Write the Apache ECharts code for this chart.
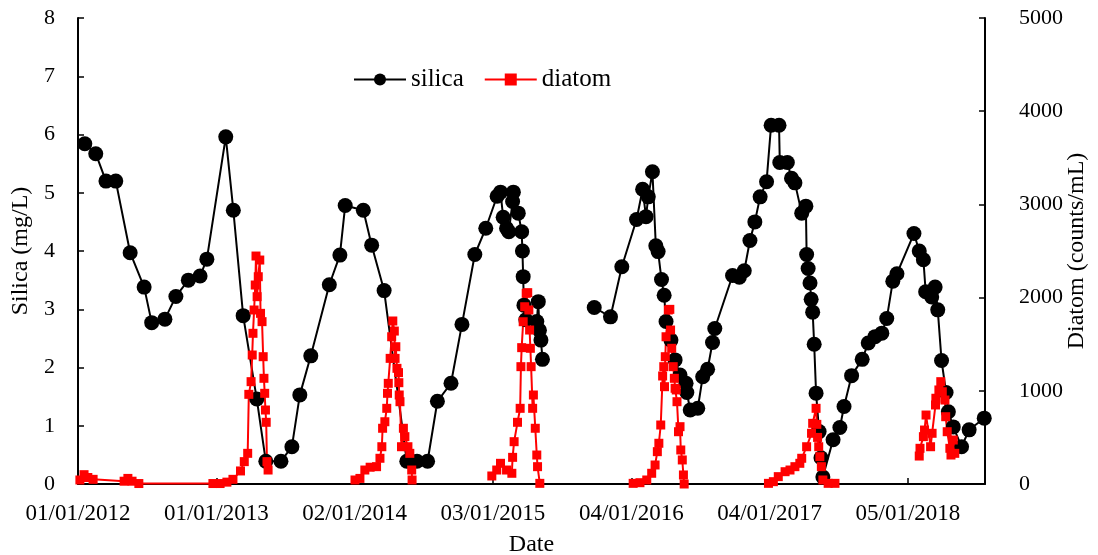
<!DOCTYPE html>
<html>
<head>
<meta charset="utf-8">
<script src="https://cdn.jsdelivr.net/npm/echarts@6/dist/echarts.min.js"></script>
<style>
html,body{margin:0;padding:0;background:#fff;}
#chart{width:1098px;height:555px;}
</style>
</head>
<body>
<div id="chart"></div>
<script>
// Days since 01/01/2012 and values (null = gap in the line)
const silicaDays = [18,47,74,100,138,175,195,230,259,292,323,341,391,411,437,473,497,537,566,587,616,665,693,707,755,777,810,870,897,925,951,987,1016,1050,1079,1109,1118,1125,1134,1140,1150,1152,1165,1174,1176,1178,1180,1185,1214,1218,1221,1225,1229,
  1300,
  1366,1409,1439,1478,1494,1503,1509,1520,1529,1535,1544,1551,1556,1569,1580,1593,1609,1611,1620,1640,1653,1666,1679,1685,1732,1750,1763,1778,1791,1805,1822,1834,1855,1857,1877,1888,1897,1915,1926,1928,1932,1937,1940,1944,1948,1953,1961,1966,1971,1998,2016,2027,2047,2075,2091,2109,2127,2140,2156,2167,2212,2226,2237,2243,2259,2268,2275,2285,2297,2303,2316,2338,2358,2398];
const silicaValues = [5.84,5.67,5.20,5.20,3.97,3.38,2.77,2.83,3.22,3.50,3.57,3.86,5.96,4.70,2.89,1.46,0.39,0.39,0.64,1.53,2.20,3.42,3.93,4.78,4.70,4.10,3.32,0.39,0.39,0.39,1.42,1.73,2.74,3.94,4.39,4.94,5.01,4.58,4.39,4.33,4.85,5.01,4.65,4.33,4.00,3.56,3.07,2.82,2.79,3.13,2.64,2.47,2.14,
  null,
  3.03,2.87,3.73,4.54,5.06,4.59,4.93,5.36,4.09,3.99,3.51,3.24,2.79,2.47,2.13,1.87,1.73,1.57,1.27,1.30,1.84,1.97,2.43,2.67,3.58,3.55,3.66,4.18,4.50,4.93,5.19,6.16,6.16,5.52,5.52,5.25,5.17,4.65,4.77,3.94,3.70,3.45,3.17,2.95,2.40,1.56,0.90,0.45,0.12,0.76,0.97,1.33,1.86,2.14,2.42,2.53,2.59,2.84,3.48,3.61,4.30,4.00,3.85,3.30,3.21,3.38,2.99,2.12,1.57,1.24,0.98,0.64,0.93,1.13];

const diatomDays = [5,16,26,40,122,132,143,161,357,376,394,410,430,440,449,452,458,461,463,466,469,471,474,477,481,483,487,490,492,494,496,498,500,503,
  600,
  733,746,759,773,790,799,804,806,812,817,819,821,826,830,833,837,839,841,844,848,849,850,852,856,861,865,873,878,883,884,
  1000,
  1095,1108,1118,1134,1148,1150,1154,1163,1170,1172,1174,1178,1182,1186,1190,1193,1195,1197,1199,1203,1205,1210,1214,1216,1222,
  1350,
  1469,1487,1505,1518,1527,1533,1537,1542,1547,1550,1552,1554,1556,1562,1566,1568,1571,1575,1578,1580,1583,1585,1589,1593,1595,1599,1602,1604,
  1700,
  1827,1840,1853,1871,1884,1897,1910,1915,1928,1941,1944,1953,1955,1957,1960,1963,1967,1971,1985,2003,
  2100,
  2226,2228,2237,2240,2244,2256,2260,2269,2270,2278,2283,2287,2294,2296,2300,2307,2310,2316,2320];
const diatomValues = [43,100,70,50,30,60,30,5,5,5,20,50,140,240,329,962,1098,1384,1617,1867,2135,2446,2010,2224,2403,1831,1742,1366,1134,973,794,662,240,150,
  null,
  43,60,150,180,186,276,400,598,668,812,973,1080,1348,1580,1749,1641,1348,1473,1241,1195,1087,955,883,400,598,508,400,329,150,43,
  null,
  86,150,222,150,115,286,454,662,812,1259,1463,1741,1902,2046,2053,1867,1652,1456,1259,812,955,598,311,186,7,
  null,
  7,14,43,115,204,347,437,633,1159,1259,1044,1366,1580,1867,1874,1652,1456,1259,1134,1027,1009,883,561,615,365,258,97,0,
  null,
  7,25,79,132,150,186,222,276,400,544,651,812,640,500,400,293,186,43,7,7,
  null,
  300,383,508,579,740,400,544,848,920,1009,1098,990,901,722,561,383,311,472,329];

const startUTC = Date.UTC(2012, 0, 1);
function pad(n){ return (n < 10 ? '0' : '') + n; }
function dayLabel(v){
  const d = new Date(startUTC + v * 86400000);
  return pad(d.getUTCDate()) + '/' + pad(d.getUTCMonth() + 1) + '/' + d.getUTCFullYear();
}
const silicaData = silicaDays.map((d, i) => [d, silicaValues[i]]);
const diatomData = diatomDays.map((d, i) => [d, diatomValues[i]]);

const FONT = 'Liberation Serif';
const chart = echarts.init(document.getElementById('chart'), null, {renderer: 'canvas'});
chart.setOption({
  animation: false,
  backgroundColor: '#fff',
  textStyle: {fontFamily: FONT, color: '#000'},
  grid: {left: 78, right: 113, top: 18, bottom: 71, containLabel: false, outerBoundsMode: 'none'},
  legend: {
    left: 348, top: 62,
    itemWidth: 52, itemHeight: 15, itemGap: 20,
    textStyle: {fontFamily: FONT, fontSize: 25, color: '#000'},
    data: ['silica', 'diatom']
  },
  xAxis: {
    type: 'value', min: 0, max: 2400, interval: 366,
    name: 'Date', nameLocation: 'middle', nameGap: 49,
    nameTextStyle: {fontFamily: FONT, fontSize: 24, color: '#000'},
    axisLine: {lineStyle: {color: '#000', width: 2}},
    axisTick: {inside: true, length: 6, lineStyle: {color: '#000', width: 1.5}},
    axisLabel: {formatter: dayLabel, fontFamily: FONT, fontSize: 23, color: '#000', margin: 18, showMaxLabel: false},
    splitLine: {show: false}
  },
  yAxis: [{
    type: 'value', min: 0, max: 8, interval: 1,
    name: 'Silica (mg/L)', nameLocation: 'middle', nameGap: 25, nameRotate: 90,
    nameTextStyle: {fontFamily: FONT, fontSize: 24, color: '#000'},
    axisLine: {show: true, lineStyle: {color: '#000', width: 2}},
    axisTick: {show: true, inside: true, length: 6, lineStyle: {color: '#000', width: 1.5}},
    axisLabel: {fontFamily: FONT, fontSize: 22, color: '#000', margin: 23},
    splitLine: {show: false}
  }, {
    type: 'value', min: 0, max: 5000, interval: 1000, position: 'right',
    name: 'Diatom (counts/mL)', nameLocation: 'middle', nameGap: 80, nameRotate: 90,
    nameMoveOverlap: false,
    nameTextStyle: {fontFamily: FONT, fontSize: 24, color: '#000'},
    axisLine: {show: true, lineStyle: {color: '#000', width: 2}},
    axisTick: {show: true, inside: true, length: 6, lineStyle: {color: '#000', width: 1.5}},
    axisLabel: {formatter: v => String(v), fontFamily: FONT, fontSize: 22, color: '#000', margin: 34},
    splitLine: {show: false}
  }],
  series: [{
    name: 'silica', type: 'line', yAxisIndex: 0, data: silicaData,
    symbol: 'circle', symbolSize: 15, connectNulls: false,
    lineStyle: {color: '#000', width: 2},
    itemStyle: {color: '#000'}
  }, {
    name: 'diatom', type: 'line', yAxisIndex: 1, data: diatomData,
    symbol: 'rect', symbolSize: 9, connectNulls: false,
    lineStyle: {color: '#ff0000', width: 2},
    itemStyle: {color: '#ff0000'}
  }]
});
</script>
</body>
</html>
